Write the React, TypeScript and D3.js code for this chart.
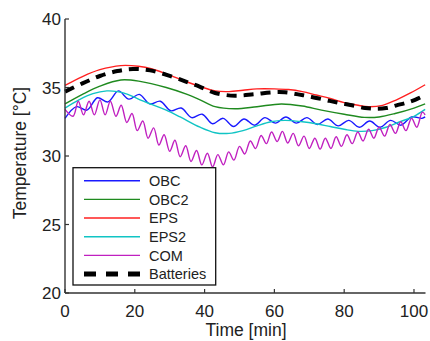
import React from "react";
import * as d3 from "d3";

// ---- data ----
const xTicks = [0, 20, 40, 60, 80, 100];
const yTicks = [20, 25, 30, 35, 40];

const obcTime = [0, 3.3, 6.3, 9.3, 12.3, 15.3, 18.3, 21.3, 24.3, 27.3, 30.3, 33.3, 36.3, 39.3, 42.3, 45.3, 48.3, 51.3, 54.3, 57.3, 60.3, 63.3, 66.3, 69.3, 72.3, 75.3, 78.3, 81.3, 84.3, 87.3, 90.3, 93.3, 96.3, 99.3, 102.3, 103.2];
const obcTemp = [32.75, 33.6, 33.35, 34.25, 33.95, 34.75, 34.15, 34.5, 33.8, 34.0, 33.3, 33.5, 32.8, 33.05, 32.35, 32.75, 32.15, 32.7, 32.25, 32.8, 32.4, 32.85, 32.4, 32.8, 32.3, 32.7, 32.2, 32.6, 32.1, 32.55, 32.1, 32.6, 32.25, 32.85, 32.75, 32.85];

const obc2Time = [0, 5, 10, 16, 21.5, 29, 35, 38.7, 43, 48.7, 55, 62, 68, 73.5, 80, 85.8, 90, 94.6, 100, 103.2];
const obc2Temp = [33.8, 34.5, 35.1, 35.55, 35.45, 35.0, 34.5, 34.1, 33.6, 33.45, 33.6, 33.8, 33.65, 33.35, 33.05, 32.82, 32.85, 33.1, 33.5, 33.8];

const epsTime = [0, 5, 10, 16, 21, 25, 29, 35, 39, 43, 47, 51, 55, 60, 64, 68, 72, 76, 80, 84, 87, 91, 95, 99, 103.2];
const epsTemp = [35.15, 35.8, 36.3, 36.6, 36.55, 36.35, 36.0, 35.4, 35.05, 34.75, 34.7, 34.8, 34.9, 34.9, 34.85, 34.7, 34.45, 34.2, 33.9, 33.7, 33.6, 33.7, 34.1, 34.6, 35.2];

const eps2Time = [0, 4, 8, 12, 15, 18, 21.5, 25, 29, 33, 38.7, 43, 47, 51, 55, 59, 63, 68, 72, 76, 80, 84, 88, 92, 96, 100, 103.2];
const eps2Temp = [33.5, 34.1, 34.55, 34.75, 34.7, 34.5, 34.1, 33.75, 33.35, 32.85, 32.1, 31.7, 31.65, 31.85, 32.2, 32.5, 32.6, 32.5, 32.35, 32.15, 31.95, 31.8, 31.85, 32.1, 32.5, 32.9, 33.4];

const comTime = [0, 2.3, 3.8, 5.3, 6.9, 8.4, 10.0, 11.5, 13.0, 14.6, 16.1, 17.7, 19.2, 20.7, 22.3, 23.8, 25.4, 26.9, 28.4, 30.0, 31.5, 33.0, 34.6, 36.1, 37.7, 39.2, 40.8, 42.3, 43.8, 45.4, 46.9, 48.4, 50.0, 51.5, 53.1, 54.6, 56.2, 57.7, 59.2, 60.8, 62.3, 63.8, 65.4, 66.9, 68.5, 70.0, 71.6, 73.1, 74.6, 76.2, 77.7, 79.2, 80.8, 82.3, 83.9, 85.4, 87.0, 88.5, 90.0, 91.6, 93.1, 94.7, 96.2, 97.7, 99.3, 100.8, 102.4, 103.2];
const comTemp = [33.4, 32.9, 34.0, 33.0, 34.0, 33.0, 34.1, 33.0, 34.0, 32.9, 33.7, 32.45, 33.1, 31.85, 32.55, 31.3, 32.05, 30.8, 31.55, 30.35, 31.15, 29.95, 30.75, 29.6, 30.4, 29.35, 30.2, 29.2, 30.1, 29.35, 30.3, 29.7, 30.7, 30.15, 31.1, 30.55, 31.5, 30.9, 31.75, 31.05, 31.8, 30.95, 31.65, 30.75, 31.45, 30.55, 31.3, 30.5, 31.3, 30.55, 31.4, 30.7, 31.55, 30.9, 31.75, 31.1, 31.95, 31.3, 32.1, 31.45, 32.3, 31.65, 32.5, 31.85, 32.75, 32.1, 33.2, 33.0];

const batTime = [0, 5, 10, 15, 19.5, 24.4, 30, 35, 38.7, 43, 48.7, 54, 59.3, 63, 66.8, 70, 74.5, 78, 82.2, 86, 88.8, 92, 95, 98, 100.3, 103.2];
const batTemp = [34.7, 35.3, 35.84, 36.2, 36.35, 36.25, 35.85, 35.4, 35.05, 34.6, 34.4, 34.5, 34.65, 34.65, 34.5, 34.35, 34.1, 33.9, 33.7, 33.5, 33.45, 33.5, 33.7, 33.9, 34.1, 34.45];

const seriesNames = ["OBC", "OBC2", "EPS", "EPS2", "COM", "Batteries"];
const seriesColors = ["#1a1aff", "#1f8a1f", "#ff2020", "#10c4c4", "#c020c0", "#000000"];

export default function App() {
  const width = 430;
  const height = 341;
  const x = d3.scaleLinear().domain([0, 103.3]).range([65, 425.5]);
  const y = d3.scaleLinear().domain([20, 40]).range([293, 19]);

  const series = [
    { t: obcTime, v: obcTemp },
    { t: obc2Time, v: obc2Temp },
    { t: epsTime, v: epsTemp },
    { t: eps2Time, v: eps2Temp },
    { t: comTime, v: comTemp },
    { t: batTime, v: batTemp },
  ];

  const line = d3
    .line<[number, number]>()
    .x((d) => x(d[0]))
    .y((d) => y(d[1]))
    .curve(d3.curveCatmullRom.alpha(0.5));

  const font = "'Liberation Sans', Arial, Helvetica, sans-serif";
  const axisColor = "#333";

  const legX = 73;
  const legY = 167.7;
  const legW = 142.7;
  const legH = 117.3;
  const rowY0 = 180.7;
  const rowStep = 18.66;

  return (
    <svg
      width={width}
      height={height}
      style={{ position: "absolute", left: 0, top: 0, background: "#fff" }}
      fontFamily={font}
    >
      <rect x={0} y={0} width={width} height={height} fill="#fff" />
      {/* lines */}
      {series.map((s, i) => {
        const pts = s.t.map((t, j) => [t, s.v[j]] as [number, number]);
        const isBat = i === 5;
        return (
          <path
            key={i}
            d={line(pts) || ""}
            fill="none"
            stroke={seriesColors[i]}
            strokeWidth={isBat ? 4 : 1.4}
            strokeDasharray={isBat ? "10,7" : undefined}
            strokeLinejoin="round"
          />
        );
      })}

      {/* axes */}
      <line x1={x(0)} x2={x(0)} y1={y(40)} y2={y(20)} stroke={axisColor} strokeWidth={1.4} />
      <line x1={x(0)} x2={x(103.3)} y1={y(20)} y2={y(20)} stroke={axisColor} strokeWidth={1.4} />
      {yTicks.map((v) => (
        <g key={"y" + v}>
          <line x1={x(0)} x2={x(0) + 4} y1={y(v)} y2={y(v)} stroke={axisColor} strokeWidth={1.2} />
          <text
            x={x(0) - 4}
            y={y(v)}
            dy="0.36em"
            textAnchor="end"
            fontSize={17}
            fill="#222"
          >
            {v}
          </text>
        </g>
      ))}
      {xTicks.map((v) => (
        <g key={"x" + v}>
          <line x1={x(v)} x2={x(v)} y1={y(20)} y2={y(20) - 4} stroke={axisColor} strokeWidth={1.2} />
          <text x={x(v)} y={316.5} textAnchor="middle" fontSize={17} fill="#222">
            {v}
          </text>
        </g>
      ))}
      <text x={246} y={336} textAnchor="middle" fontSize={17.5} fill="#222">
        Time [min]
      </text>
      <text
        transform="translate(26,153) rotate(-90)"
        textAnchor="middle"
        fontSize={17.5}
        fill="#222"
      >
        Temperature [°C]
      </text>

      {/* legend */}
      <rect x={legX} y={legY} width={legW} height={legH} fill="#fff" stroke="#111" strokeWidth={1.3} />
      {seriesNames.map((n, i) => {
        const ry = rowY0 + i * rowStep;
        const isBat = i === 5;
        return (
          <g key={n}>
            <line
              x1={84}
              x2={140}
              y1={ry}
              y2={ry}
              stroke={seriesColors[i]}
              strokeWidth={isBat ? 5 : 1.4}
              strokeDasharray={isBat ? "12,10" : undefined}
            />
            <text x={149} y={ry} dy="0.36em" fontSize={14.5} fill="#222">
              {n}
            </text>
          </g>
        );
      })}
    </svg>
  );
}
